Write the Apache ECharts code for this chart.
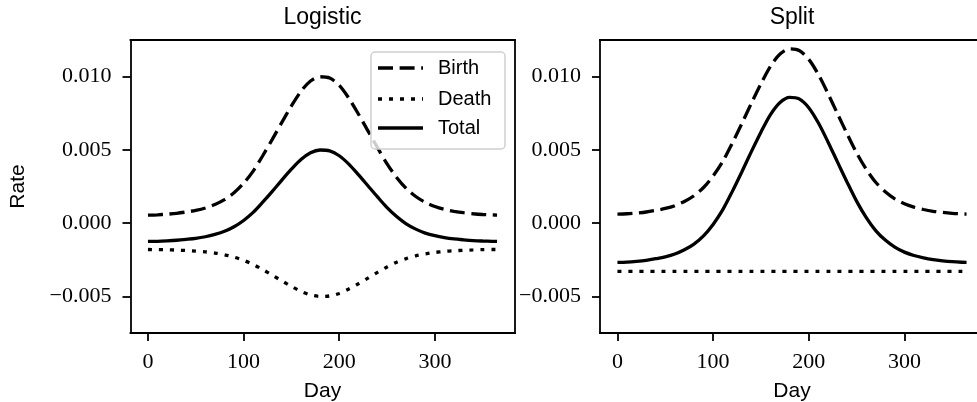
<!DOCTYPE html>
<html>
<head>
<meta charset="utf-8">
<script src="https://cdn.jsdelivr.net/npm/echarts@6/dist/echarts.min.js"></script>
<style>
  html, body { margin: 0; padding: 0; background: #fff; }
  #chart { width: 977px; height: 402px; }
</style>
</head>
<body>
<div id="chart"></div>
<script>
// Day of year at which each rate is sampled
const days = [0, 10, 20, 30, 40, 50, 60, 70, 80, 90, 100, 110, 120, 130, 140, 150, 160, 170, 180,
  190, 200, 210, 220, 230, 240, 250, 260, 270, 280, 290, 300, 310, 320, 330, 340, 350, 360, 365];

// Logistic model rates
const logisticBirth = [0.00055, 0.00057, 0.00061, 0.00067, 0.00076, 0.00087, 0.00103, 0.00127, 0.00160, 0.00207,
  0.00272, 0.00355, 0.00460, 0.00572, 0.00688, 0.00800, 0.00900, 0.00970, 0.00999,
  0.00990, 0.00940, 0.00853, 0.00745, 0.00630, 0.00515, 0.00405, 0.00312, 0.00237, 0.00182,
  0.00142, 0.00114, 0.00094, 0.00081, 0.00071, 0.00064, 0.00059, 0.00056, 0.00055];
const logisticDeath = [-0.00180, -0.00181, -0.00182, -0.00184, -0.00187, -0.00191, -0.00196, -0.00204, -0.00216, -0.00232,
  -0.00254, -0.00282, -0.00317, -0.00355, -0.00394, -0.00432, -0.00466, -0.00490, -0.00500,
  -0.00497, -0.00480, -0.00450, -0.00414, -0.00375, -0.00336, -0.00299, -0.00267, -0.00242, -0.00223,
  -0.00210, -0.00200, -0.00193, -0.00189, -0.00185, -0.00183, -0.00181, -0.00180, -0.00180];
const logisticTotal = [-0.00125, -0.00124, -0.00121, -0.00117, -0.00111, -0.00104, -0.00093, -0.00077, -0.00056, -0.00025,
  0.00018, 0.00073, 0.00143, 0.00217, 0.00294, 0.00368, 0.00434, 0.00480, 0.00499,
  0.00493, 0.00460, 0.00403, 0.00331, 0.00255, 0.00179, 0.00106, 0.00045, -0.00005, -0.00041,
  -0.00068, -0.00086, -0.00099, -0.00108, -0.00114, -0.00119, -0.00122, -0.00124, -0.00125];

// Split model rates
const splitBirth = [0.00062, 0.00064, 0.00069, 0.00076, 0.00087, 0.00100, 0.00119, 0.00148, 0.00187, 0.00243,
  0.00321, 0.00420, 0.00545, 0.00679, 0.00818, 0.00951, 0.01071, 0.01154, 0.01189,
  0.01178, 0.01118, 0.01015, 0.00886, 0.00748, 0.00611, 0.00480, 0.00369, 0.00279, 0.00214,
  0.00166, 0.00132, 0.00109, 0.00093, 0.00081, 0.00073, 0.00067, 0.00063, 0.00062];
const splitDeath = [-0.0033, -0.0033, -0.0033, -0.0033, -0.0033, -0.0033, -0.0033, -0.0033, -0.0033, -0.0033,
  -0.0033, -0.0033, -0.0033, -0.0033, -0.0033, -0.0033, -0.0033, -0.0033, -0.0033,
  -0.0033, -0.0033, -0.0033, -0.0033, -0.0033, -0.0033, -0.0033, -0.0033, -0.0033, -0.0033,
  -0.0033, -0.0033, -0.0033, -0.0033, -0.0033, -0.0033, -0.0033, -0.0033, -0.0033];
const splitTotal = [-0.00268, -0.00266, -0.00261, -0.00254, -0.00243, -0.00230, -0.00211, -0.00182, -0.00143, -0.00087,
  -0.00009, 0.00090, 0.00215, 0.00349, 0.00488, 0.00621, 0.00741, 0.00824, 0.00859,
  0.00848, 0.00788, 0.00685, 0.00556, 0.00418, 0.00281, 0.00150, 0.00039, -0.00051, -0.00116,
  -0.00164, -0.00198, -0.00221, -0.00237, -0.00249, -0.00257, -0.00263, -0.00267, -0.00268];

// Tick positions
const dayTicks = [0, 100, 200, 300];
const rateTicks = [-0.005, 0.000, 0.005, 0.010];

const panelTitles = ['Logistic', 'Split'];
const seriesNames = ['Birth', 'Death', 'Total'];

const SANS = '"Liberation Sans", Arial, sans-serif';
const SERIF = '"Liberation Serif", "Times New Roman", serif';
const LW = 3.3;
const styles = {
  Birth: { color: '#000', width: LW, type: [15, 6.6] },
  Death: { color: '#000', width: LW, type: [4, 7] },
  Total: { color: '#000', width: LW, type: 'solid' }
};

// The second panel runs past the right edge of the page, so its right frame is off-canvas
const grids = [
  { left: 130.5, top: 40, width: 384, height: 293, rightFrame: true },
  { left: 600, top: 40, width: 384, height: 293, rightFrame: false }
];

const DAY_RANGE = [-18.25, 383.25];
const RATE_RANGE = [-0.0075, 0.0125];
const spine = { show: true, onZero: false, lineStyle: { color: '#000', width: 1.8, cap: 'square' } };

function fmtRate(v) {
  return v.toFixed(3).replace('-', '\u2212');
}

// Bottom axes carry ticks and labels; top axes only draw the frame
const xAxes = grids.map((g, i) => ({
  type: 'value', gridIndex: i, position: 'bottom', min: DAY_RANGE[0], max: DAY_RANGE[1],
  name: 'Day', nameLocation: 'middle', nameGap: 48,
  nameTextStyle: { fontFamily: SANS, fontSize: 21, color: '#000' },
  axisLine: spine,
  splitLine: { show: false },
  axisTick: { show: true, inside: false, length: 8, customValues: dayTicks,
              lineStyle: { color: '#000', width: 1.8 } },
  axisLabel: { show: true, customValues: dayTicks, margin: 18,
               fontFamily: SERIF, fontSize: 22, color: '#000',
               formatter: v => String(Math.round(v)) }
})).concat(grids.map((g, i) => ({
  type: 'value', gridIndex: i, position: 'top', min: DAY_RANGE[0], max: DAY_RANGE[1],
  axisLine: spine, splitLine: { show: false }, axisTick: { show: false }, axisLabel: { show: false }
})));

// Left axes carry ticks and labels; right axes only draw the frame
const yAxes = grids.map((g, i) => ({
  type: 'value', gridIndex: i, position: 'left', min: RATE_RANGE[0], max: RATE_RANGE[1],
  name: i === 0 ? 'Rate' : '', nameLocation: 'middle', nameGap: 102,
  nameTextStyle: { fontFamily: SANS, fontSize: 21, color: '#000' },
  axisLine: spine,
  splitLine: { show: false },
  axisTick: { show: true, inside: false, length: 8, customValues: rateTicks,
              lineStyle: { color: '#000', width: 1.8 } },
  axisLabel: { show: true, customValues: rateTicks, margin: 19,
               fontFamily: SERIF, fontSize: 22, color: '#000',
               formatter: v => fmtRate(v) }
})).concat(grids.map((g, i) => ({
  type: 'value', gridIndex: i, position: 'right', min: RATE_RANGE[0], max: RATE_RANGE[1],
  axisLine: Object.assign({}, spine, { show: g.rightFrame }),
  splitLine: { show: false }, axisTick: { show: false }, axisLabel: { show: false }
})));

const panels = [
  { Birth: logisticBirth, Death: logisticDeath, Total: logisticTotal },
  { Birth: splitBirth, Death: splitDeath, Total: splitTotal }
];

const series = [];
panels.forEach((p, i) => {
  seriesNames.forEach(name => {
    series.push({
      name: name, type: 'line', xAxisIndex: i, yAxisIndex: i,
      data: days.map((d, k) => [d, p[name][k]]),
      showSymbol: false, symbol: 'none', smooth: 0.3,
      lineStyle: Object.assign({}, styles[name]),
      z: 3
    });
  });
});

// Legend box in the upper right of the first panel
const legendBox = { x: 371, y: 52, w: 134, h: 97 };
const legendRows = [68, 99, 128];
const legendGraphics = [{
  type: 'rect', z: 50,
  shape: { x: legendBox.x, y: legendBox.y, width: legendBox.w, height: legendBox.h, r: 4 },
  style: { fill: 'rgba(255,255,255,0.8)', stroke: '#d0d0d0', lineWidth: 1.5 }
}];
seriesNames.forEach((name, k) => {
  const st = styles[name];
  legendGraphics.push({
    type: 'line', z: 51,
    shape: { x1: 378, y1: legendRows[k], x2: 423, y2: legendRows[k] },
    style: { stroke: '#000', lineWidth: LW, lineDash: st.type === 'solid' ? null : st.type }
  });
  legendGraphics.push({
    type: 'text', z: 51, x: 438, y: legendRows[k],
    style: { text: name, font: '20px ' + SANS, fill: '#000',
             textAlign: 'left', textVerticalAlign: 'middle', align: 'left', verticalAlign: 'middle' }
  });
});

const titleGraphics = panelTitles.map((t, i) => ({
  type: 'text', z: 10,
  x: grids[i].left + grids[i].width / 2, y: 18,
  style: { text: t, font: '23px ' + SANS, fill: '#000',
           textAlign: 'center', textVerticalAlign: 'middle', align: 'center', verticalAlign: 'middle' }
}));

const chart = echarts.init(document.getElementById('chart'), null, { renderer: 'canvas' });
chart.setOption({
  animation: false,
  backgroundColor: '#fff',
  grid: grids.map(g => ({ left: g.left, top: g.top, width: g.width, height: g.height,
                          show: false, containLabel: false, outerBoundsMode: 'none' })),
  xAxis: xAxes,
  yAxis: yAxes,
  series: series,
  graphic: { elements: titleGraphics.concat(legendGraphics) }
});
</script>
</body>
</html>
